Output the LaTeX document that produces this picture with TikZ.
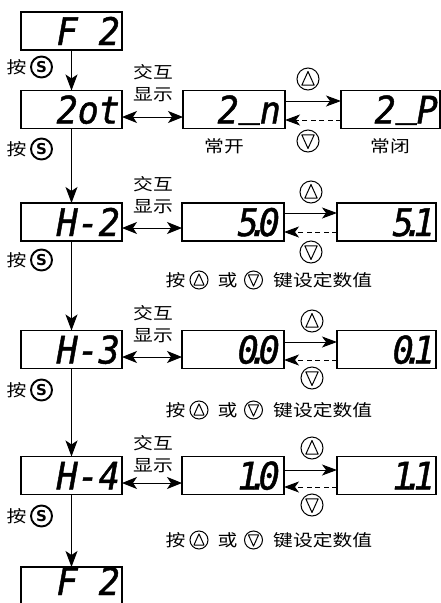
\documentclass[tikz,border=0pt]{standalone}
\usepackage{fontspec}
\usetikzlibrary{arrows.meta,calc}
\newfontfamily\cjk{Noto Sans CJK SC}[FakeStretch=1.2]
\newfontfamily\segfont{DejaVu Sans Mono Oblique}[FakeStretch=0.92,FakeBold=1.2]
\newfontfamily\keyfont{DejaVu Sans Bold}
\newcommand{\segdot}{\makebox[0pt]{.}}
\newcommand{\segus}{\raisebox{0.2em}{\_}}
\tikzset{
  disp/.style={draw, line width=1.2pt, minimum width=#1, minimum height=38pt, inner sep=0pt, outer sep=0pt},
  disp/.default=101pt,
  seg/.style={font=\segfont\fontsize{38}{38}\selectfont, inner sep=0pt, anchor=base east},
  zh/.style={font=\cjk\fontsize{16.5}{22}\selectfont, inner sep=0pt, align=center},
  keybase/.style={circle, draw, line width=1pt, minimum size=#1, inner sep=0pt},
  keyup/.style={keybase=#1, path picture={\draw[line width=1pt, line join=round]
      ($(path picture bounding box.center)!0.68!(path picture bounding box.north)$) --
      ($(path picture bounding box.center)!0.56!(path picture bounding box.south east)$) --
      ($(path picture bounding box.center)!0.56!(path picture bounding box.south west)$) -- cycle;}},
  keyup/.default=22pt,
  keydn/.style={keybase=#1, path picture={\draw[line width=1pt, line join=round]
      ($(path picture bounding box.center)!0.68!(path picture bounding box.south)$) --
      ($(path picture bounding box.center)!0.56!(path picture bounding box.north east)$) --
      ($(path picture bounding box.center)!0.56!(path picture bounding box.north west)$) -- cycle;}},
  keydn/.default=22pt,
  skey/.style={circle, draw, line width=1.9pt, minimum size=21pt, inner sep=0pt, font=\keyfont\fontsize{15}{15}\selectfont},
  flow/.style={-{Stealth[length=16pt,width=12pt,inset=4pt]}, line width=1pt},
  dbl/.style={{Stealth[length=15pt,width=12pt,inset=4pt]}-{Stealth[length=15pt,width=12pt,inset=4pt]}, line width=1pt},
  inc/.style={-{Stealth[length=15pt,width=11pt,inset=4pt]}, line width=1pt},
  dec/.style={-{Stealth[length=15pt,width=11pt,inset=4pt]}, line width=1pt, dash pattern=on 5pt off 3.5pt},
}
\begin{document}
\begin{tikzpicture}[x=1pt, y=-1pt]
\useasboundingbox (0,0) rectangle (441,603);
\clip (0,0) rectangle (441,603);

% ---- left column
\node[disp] (f2a) at (71.5,31) {};
\node[seg] (f2at) at ([xshift=-2pt,yshift=-14pt]f2a.east) {F 2};
\node[disp] (a1) at (71.5,109.5) {};
\node[seg] (a1t) at ([xshift=-2pt,yshift=-14pt]a1.east) {2ot};
\node[disp] (a2) at (71.5,222) {};
\node[seg] (a2t) at ([xshift=-2pt,yshift=-14pt]a2.east) {H-2};
\node[disp] (a3) at (71.5,349.5) {};
\node[seg] (a3t) at ([xshift=-2pt,yshift=-14pt]a3.east) {H-3};
\node[disp] (a4) at (71.5,475.5) {};
\node[seg] (a4t) at ([xshift=-2pt,yshift=-14pt]a4.east) {H-4};
\node[disp] (f2b) at (71.5,586) {};
\node[seg] (f2bt) at ([xshift=-2pt,yshift=-9pt]f2b.east) {F 2};

\draw[flow] (f2a.south) -- (a1.north);
\draw[flow] (a1.south) -- (a2.north);
\draw[flow] (a2.south) -- (a3.north);
\draw[flow] (a3.south) -- (a4.north);
\draw[flow] (a4.south) -- (f2b.north);

% press S labels
\foreach \i/\yy in {1/67,2/149,3/260,4/390,5/516}{
  \node[zh] (an\i) at (16.5,\yy) {按};
  \node[skey] (s\i) at (41.5,\yy) {S};
}

% ---- row 1
\node[disp=102pt] (m1) at (234,109.5) {};
\node[seg] (m1t) at ([xshift=-4pt,yshift=-14pt]m1.east) {2\segus n};
\node[disp=99pt] (r1) at (390.5,109.5) {};
\node[seg] (r1t) at ([xshift=-2pt,yshift=-14pt]r1.east) {2\segus P};
\node[zh] (x1) at (153,83) {交互\\显示};
\draw[dbl] ([yshift=-7.5pt]a1.east) -- ([yshift=-7.5pt]m1.west);
\draw[inc] ([yshift=8.5pt]m1.east) -- ([yshift=8.5pt]r1.west);
\draw[dec] ([yshift=-10.5pt]r1.west) -- ([yshift=-10.5pt]m1.east);
\node[keyup] (u1) at (308,79) {};
\node[keydn] (d1) at (308,141) {};
\node[zh] (no) at (224,146) {常开};
\node[zh] (nc) at (390,146) {常闭};

% ---- row 2
\node[disp=102pt] (m2) at (233,222) {};
\node[seg] (m2t) at ([xshift=-4pt,yshift=-14pt]m2.east) {5\segdot 0};
\node[disp=99pt] (r2) at (386.5,222) {};
\node[seg] (r2t) at ([xshift=-1pt,yshift=-14pt]r2.east) {5\segdot 1};
\node[zh] (x2) at (153,195) {交互\\显示};
\draw[dbl] ([yshift=-6pt]a2.east) -- ([yshift=-6pt]m2.west);
\draw[inc] ([yshift=9pt]m2.east) -- ([yshift=9pt]r2.west);
\draw[dec] ([yshift=-10pt]r2.west) -- ([yshift=-10pt]m2.east);
\node[keyup] (u2) at (311,192) {};
\node[keydn] (d2) at (311,252) {};

% ---- row 3
\node[disp=102pt] (m3) at (233,349.5) {};
\node[seg] (m3t) at ([xshift=-4pt,yshift=-14pt]m3.east) {0\segdot 0};
\node[disp=99pt] (r3) at (386.5,349.5) {};
\node[seg] (r3t) at ([xshift=-1pt,yshift=-14pt]r3.east) {0\segdot 1};
\node[zh] (x3) at (153,324.5) {交互\\显示};
\draw[dbl] ([yshift=-7.5pt]a3.east) -- ([yshift=-7.5pt]m3.west);
\draw[inc] ([yshift=7.5pt]m3.east) -- ([yshift=7.5pt]r3.west);
\draw[dec] ([yshift=-10.5pt]r3.west) -- ([yshift=-10.5pt]m3.east);
\node[keyup] (u3) at (312,321) {};
\node[keydn] (d3) at (312,378) {};

% ---- row 4
\node[disp=102pt] (m4) at (233,475.5) {};
\node[seg] (m4t) at ([xshift=-4pt,yshift=-14pt]m4.east) {1\segdot 0};
\node[disp=99pt] (r4) at (386.5,475.5) {};
\node[seg] (r4t) at ([xshift=-1pt,yshift=-14pt]r4.east) {1\segdot 1};
\node[zh] (x4) at (153,454) {交互\\显示};
\draw[dbl] ([yshift=-7.5pt]a4.east) -- ([yshift=-7.5pt]m4.west);
\draw[inc] ([yshift=5.5pt]m4.east) -- ([yshift=5.5pt]r4.west);
\draw[dec] ([yshift=-11.5pt]r4.west) -- ([yshift=-11.5pt]m4.east);
\node[keyup] (u4) at (312,448) {};
\node[keydn] (d4) at (312,505) {};

% ---- captions
\foreach \i/\yy in {2/280,3/410,4/540}{
  \node[zh] (ca\i) at (175.5,\yy) {按};
  \node[keyup=18pt] (cu\i) at (199,\yy) {};
  \node[zh] (cb\i) at (227.5,\yy) {或};
  \node[keydn=18pt] (cd\i) at (253.5,\yy) {};
  \node[zh, anchor=west] (cc\i) at (273,\yy) {键设定数值};
}
\end{tikzpicture}
\end{document}
